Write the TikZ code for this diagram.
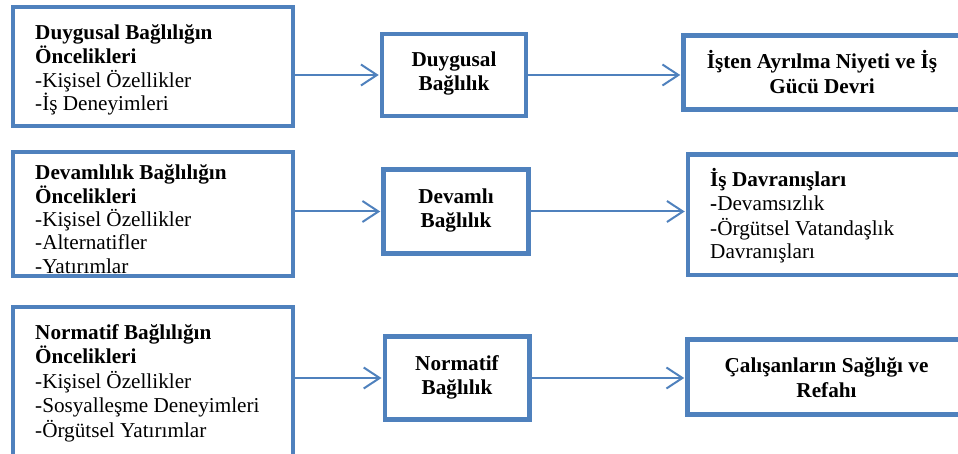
\documentclass[tikz,border=0pt]{standalone}
\usepackage{fontspec}
\setmainfont{Liberation Serif}
\usetikzlibrary{arrows.meta}

\definecolor{boxblue}{RGB}{79,129,189}

\begin{document}
\begin{tikzpicture}[x = 1pt, y = -1pt]
	\tikzstyle{boxStyle}=[shape = rectangle, draw = boxblue, line width = 4.5pt, inner sep = 0pt]
	\tikzstyle{linkStyle}=[draw = boxblue, line width = 2pt, shorten > = 1pt, -{Straight Barb[length = 16pt, width = 21pt]}]
	\tikzstyle{listStyle}=[align = left, anchor = base west, inner sep = 0pt, font = \fontsize{21.2}{23.7}\selectfont]
	\tikzstyle{titleStyle}=[align = center, anchor = base, inner sep = 0pt, font = \bfseries\fontsize{21.2}{24.5}\selectfont]
	\path[use as bounding box, clip] (0,0) rectangle (958,454);
	% boxes
	\node[boxStyle, minimum width = 280pt, minimum height = 119pt] (a1) at (153,66.5) {};
	\node[boxStyle, minimum width = 280pt, minimum height = 124pt] (a2) at (153,214) {};
	\node[boxStyle, minimum width = 280pt, minimum height = 170pt] (a3) at (153,392) {};
	\node[boxStyle, minimum width = 144pt, minimum height = 82pt] (b1) at (454,75) {};
	\node[boxStyle, minimum width = 145pt, minimum height = 84pt] (b2) at (456,211.5) {};
	\node[boxStyle, minimum width = 144.5pt, minimum height = 83pt] (b3) at (457,378) {};
	\node[boxStyle, minimum width = 277pt, minimum height = 74pt] (c1) at (822,72.5) {};
	\node[boxStyle, minimum width = 277pt, minimum height = 120.5pt] (c2) at (826.5,215) {};
	\node[boxStyle, minimum width = 278pt, minimum height = 75pt] (c3) at (826.5,377) {};
	% texts (base = last line)
	\begin{scope}
		\clip (a1.north west) rectangle ([yshift = 9pt]a1.south east);
		\node[listStyle] (t1) at (35,111) {\textbf{Duygusal Bağlılığın}\\\textbf{Öncelikleri}\\-Kişisel Özellikler\\-İş Deneyimleri};
	\end{scope}
	\node[listStyle, font = \fontsize{21.2}{23.3}\selectfont] (t2) at (35,273) {\textbf{Devamlılık Bağlılığın}\\\textbf{Öncelikleri}\\-Kişisel Özellikler\\-Alternatifler\\-Yatırımlar};
	\node[listStyle, font = \fontsize{21.2}{24.5}\selectfont] (t3) at (35,437) {\textbf{Normatif Bağlılığın}\\\textbf{Öncelikleri}\\-Kişisel Özellikler\\-Sosyalleşme Deneyimleri\\-Örgütsel Yatırımlar};
	\node[titleStyle] (t4) at (454,90.7) {Duygusal\\Bağlılık};
	\node[titleStyle] (t5) at (456,227.7) {Devamlı\\Bağlılık};
	\node[titleStyle, font = \bfseries\fontsize{21.2}{23.3}\selectfont] (t6) at (457,394) {Normatif\\Bağlılık};
	\node[titleStyle, font = \bfseries\fontsize{21.2}{25}\selectfont] (t7) at (822,93.3) {İşten Ayrılma Niyeti ve İş\\Gücü Devri};
	\node[listStyle, font = \fontsize{21.2}{24}\selectfont] (t8) at (710,259) {\textbf{İş Davranışları}\\\textbf{-}Devamsızlık\\-Örgütsel Vatandaşlık\\Davranışları};
	\node[titleStyle, font = \bfseries\fontsize{21.2}{25}\selectfont] (t9) at (826.5,397) {Çalışanların Sağlığı ve\\Refahı};
	% arrows
	\draw[linkStyle] (a1.east |- b1.west) -- (b1.west);
	\draw[linkStyle] (a2.east |- b2.west) -- (b2.west);
	\draw[linkStyle] (a3.east |- b3.west) -- (b3.west);
	\draw[linkStyle] (b1.east) -- (c1.west |- b1.east);
	\draw[linkStyle] (b2.east) -- (c2.west |- b2.east);
	\draw[linkStyle] (b3.east) -- (c3.west |- b3.east);
\end{tikzpicture}
\end{document}
